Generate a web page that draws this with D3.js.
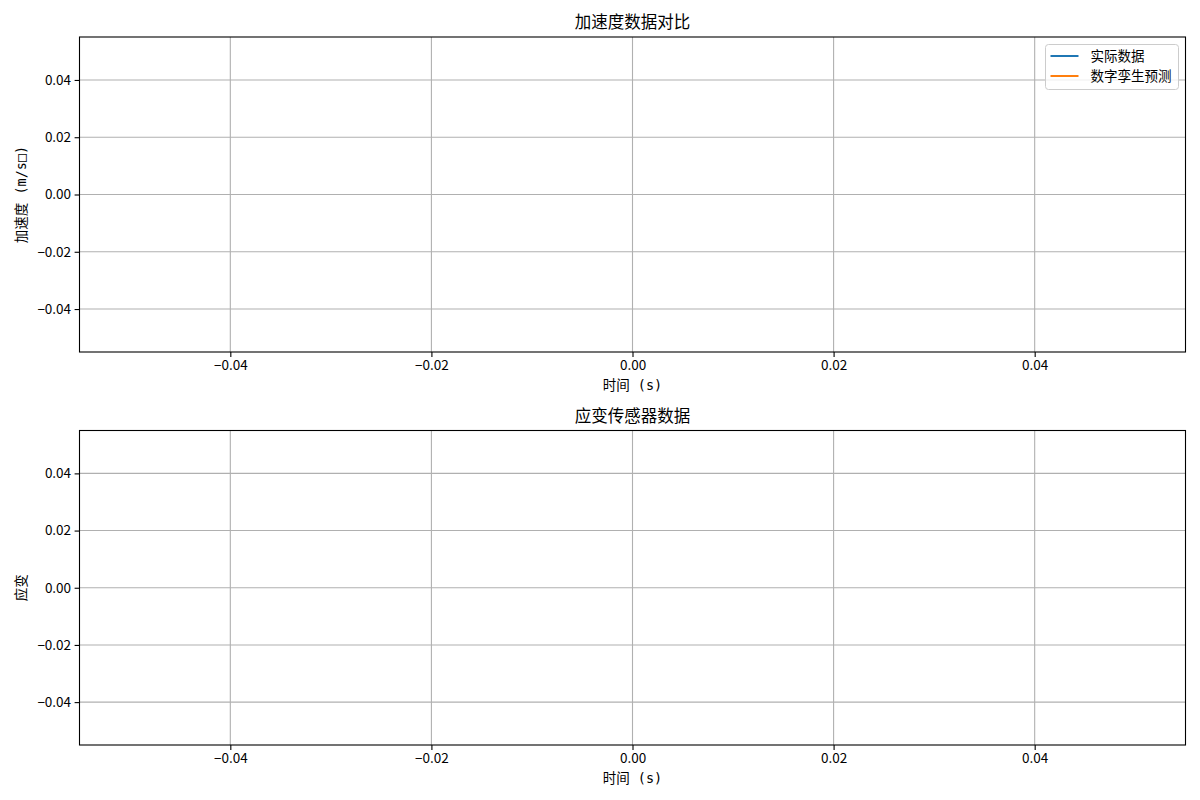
<!DOCTYPE html>
<html lang="zh">
<head>
    <meta charset="utf-8">
    <title>加速度数据对比</title>
    <style>
        body{ margin:0; background:#fff; font-family: "Noto Sans CJK SC", sans-serif;}
    </style>
    <script type="text/javascript" src="https://d3js.org/d3.v7.min.js"></script>
</head>
<body>
    <div class="chart"></div>
    <script type="text/javascript">
        // series are empty in the reference (no samples recorded)
        const time = [];
        const actualAccel = [];
        const predictedAccel = [];
        const strain = [];

        const xDomain = [-0.055, 0.055];
        const yDomain = [-0.055, 0.055];
        const xTicks = [-0.04, -0.02, 0, 0.02, 0.04];
        const yTicks = [-0.04, -0.02, 0, 0.02, 0.04];

        const seriesNames = ["实际数据", "数字孪生预测"];
        const seriesColors = ["#1f77b4", "#ff7f0e"];

        const W = 1200, H = 800;
        const left = 79.5, right = 1185.5;
        const labelFont = '"DejaVu Sans Mono", "Noto Sans CJK SC", monospace';

        const svg = d3.select('.chart')
            .append('svg')
            .attr("width", W)
            .attr("height", H)
            .style("font-family", '"Noto Sans CJK SC", sans-serif');

        const xScale = d3.scaleLinear().domain(xDomain).range([left, right]);
        const fmt = d3.format(".2f");

        function panel(top, bottom, title, ylabel, series) {
            const yScale = d3.scaleLinear().domain(yDomain).range([bottom, top]);
            const g = svg.append("g");

            // grid
            g.selectAll(".vgrid").data(xTicks).enter().append("line")
                .attr("x1", d => xScale(d)).attr("x2", d => xScale(d))
                .attr("y1", top).attr("y2", bottom)
                .attr("stroke", "#b0b0b0").attr("stroke-width", 1.1);
            g.selectAll(".hgrid").data(yTicks).enter().append("line")
                .attr("x1", left).attr("x2", right)
                .attr("y1", d => yScale(d)).attr("y2", d => yScale(d))
                .attr("stroke", "#b0b0b0").attr("stroke-width", 1.1);

            // lines
            const line = d3.line()
                .x((d, i) => xScale(time[i]))
                .y(d => yScale(d));
            series.forEach((s, i) => {
                g.append("path")
                    .datum(s.values)
                    .attr("fill", "none")
                    .attr("stroke", s.color)
                    .attr("stroke-width", 2)
                    .attr("d", line);
            });

            const xAxis = d3.axisBottom(xScale).tickValues(xTicks).tickFormat(fmt)
                .tickSize(4.9).tickPadding(3.5);
            const yAxis = d3.axisLeft(yScale).tickValues(yTicks).tickFormat(fmt)
                .tickSize(4.9).tickPadding(3.5);

            const xa = g.append("g").attr("transform", `translate(0,${bottom})`).call(xAxis);
            const ya = g.append("g").attr("transform", `translate(${left},0)`).call(yAxis);
            [xa, ya].forEach(a => {
                a.select(".domain").remove();
                a.selectAll("text").attr("font-size", 13.5).attr("fill", "#000")
                    .style("font-family", '"Noto Sans CJK SC", sans-serif');
                a.selectAll("line").attr("stroke", "#000").attr("stroke-width", 1.1);
            });

            // frame
            g.append("rect")
                .attr("x", left).attr("y", top)
                .attr("width", right - left).attr("height", bottom - top)
                .attr("fill", "none").attr("stroke", "#000").attr("stroke-width", 1.1);

            g.append("text")
                .attr("x", (left + right) / 2).attr("y", top - 9)
                .attr("text-anchor", "middle")
                .attr("font-size", 16.5)
                .text(title);

            g.append("text")
                .attr("x", (left + right) / 2).attr("y", bottom + 38)
                .attr("text-anchor", "middle")
                .attr("font-size", 13.5)
                .style("font-family", labelFont)
                .text("时间 (s)");

            g.append("text")
                .attr("transform", `translate(26,${(top + bottom) / 2}) rotate(-90)`)
                .attr("text-anchor", "middle")
                .attr("font-size", 13.5)
                .style("font-family", labelFont)
                .text(ylabel);
        }

        panel(37, 352, "加速度数据对比", "加速度 (m/s□)", [
            {values: actualAccel, color: seriesColors[0]},
            {values: predictedAccel, color: seriesColors[1]}
        ]);
        panel(430.5, 745, "应变传感器数据", "应变", [
            {values: strain, color: seriesColors[0]}
        ]);

        // legend
        const legend = svg.append("g").attr("transform", "translate(1045.5,44.5)");
        legend.append("rect")
            .attr("width", 133).attr("height", 45).attr("rx", 3)
            .attr("fill", "#fff").attr("fill-opacity", 0.8)
            .attr("stroke", "#cccccc").attr("stroke-width", 1);
        legend.selectAll(".lline").data(seriesNames).enter().append("line")
            .attr("x1", 5).attr("x2", 33)
            .attr("y1", (d, i) => 11.5 + i * 20).attr("y2", (d, i) => 11.5 + i * 20)
            .attr("stroke", (d, i) => seriesColors[i]).attr("stroke-width", 2);
        legend.selectAll(".ltext").data(seriesNames).enter().append("text")
            .attr("x", 45)
            .attr("y", (d, i) => 11.5 + i * 20)
            .attr("dy", "0.35em")
            .attr("font-size", 13.5)
            .text(d => d);
    </script>
</body>
</html>
